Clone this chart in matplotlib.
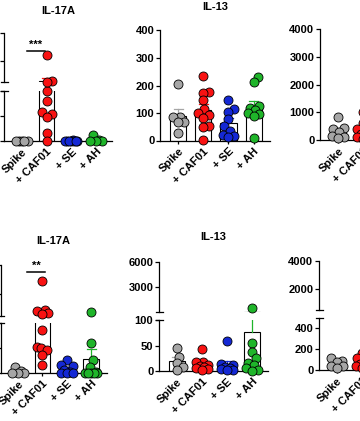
import numpy as np
import matplotlib.pyplot as plt

plt.rcParams['font.family'] = ['Liberation Sans', 'DejaVu Sans']
plt.rcParams['font.weight'] = 'bold'

groups = ["Spike", "+ CAF01", "+ SE", "+ AH"]
colors = ['#a6a6a6', '#f81212', '#1428d4', '#1fb52a']

# upper row: IL-17A
il17_top_spike = [1, 0, 0, 0, 0]
il17_top_caf01 = [601, 128, 115, 100, 80, 58, 54, 48, 16, 0]
il17_top_se = [2, 1, 0, 0, 0, 0, 0, 0]
il17_top_ah = [12, 2, 0, 0, 0]

# upper row: IL-13
il13_top_spike = [204, 86, 84, 68, 66, 26]
il13_top_caf01 = [236, 176, 174, 147, 115, 100, 93, 81, 53, 48, 2]
il13_top_se = [148, 114, 104, 77, 52, 35, 20, 18, 12]
il13_top_ah = [232, 212, 125, 118, 112, 100, 95, 88, 9]

# upper row: third panel (only partly in view)
c3_top_spike = [820, 430, 400, 300, 150, 120, 60]
c3_top_caf01 = [1020, 600, 400, 300, 200, 150, 100, 50, 20]

# lower row: IL-17A
il17_bot_spike = [12, 4, 0, 0, 0]
il17_bot_caf01 = [721, 215, 197, 162, 145, 86, 52, 50, 46, 36, 16]
il17_bot_se = [26, 16, 14, 6, 2, 0, 0, 0]
il17_bot_ah = [185, 61, 26, 13, 3, 0, 0, 0, 0, 0]

# lower row: IL-13
il13_bot_spike = [45, 28, 15, 8, 1]
il13_bot_caf01 = [43, 18, 17, 12, 10, 8, 5, 3, 1]
il13_bot_se = [59, 14, 12, 8, 5, 4, 2, 1]
il13_bot_ah = [540, 55, 38, 25, 15, 12, 5, 2, 0]

# lower row: third panel (only partly in view)
c3_bot_spike = [114, 85, 80, 40, 38, 15]
c3_bot_caf01 = [163, 120, 90, 60, 50, 40, 30, 20]

W, H = 360, 421
XLIM = (-0.72, 3.65)
DOT = 9.0  # marker diameter in px
fig = plt.figure(figsize=(W / 100, H / 100), dpi=100)


def box(x0, x1, ytop, ybot):
    return [x0 / W, 1 - ybot / H, (x1 - x0) / W, (ybot - ytop) / H]


def make_panel(x0, x1, segs, ylabels=True):
    # segs: list of (ytop, ybot, ylim, yticks), bottom segment first
    axes = []
    for k, (yt, yb, lim, ticks) in enumerate(segs):
        ax = fig.add_axes(box(x0, x1, yt, yb))
        ax.set_facecolor('none')
        ax.set_xlim(XLIM)
        ax.set_ylim(lim)
        ax.set_yticks(ticks)
        for s in ['top', 'right']:
            ax.spines[s].set_visible(False)
        for s in ['left', 'bottom']:
            ax.spines[s].set_linewidth(0.9)
        ax.tick_params(axis='y', length=2.6, width=0.9, pad=1.5, labelsize=8,
                       labelleft=ylabels)
        if k == 0:
            ax.set_xticks(range(len(groups)))
            ax.set_xticklabels(groups, rotation=45, ha='right', va='top',
                               rotation_mode='anchor', fontsize=8)
            ax.tick_params(axis='x', length=2.2, width=0.9, pad=2)
        else:
            ax.spines['bottom'].set_visible(False)
            ax.set_xticks([])
        axes.append(ax)
    # break caps
    if len(axes) > 1:
        for k, ax in enumerate(axes):
            w = 3.5 / ax.bbox.width
            if k > 0:
                ax.plot([-w, w], [0, 0], color='black', lw=0.9,
                        transform=ax.transAxes, clip_on=False)
            if k < len(axes) - 1:
                ax.plot([-w, w], [1, 1], color='black', lw=0.9,
                        transform=ax.transAxes, clip_on=False)
    return axes


def swarm(ypix):
    # greedy beeswarm in pixel space, some overlap allowed, width capped
    steps = np.arange(0, 0.651, 0.05) * DOT
    offs = np.zeros(len(ypix))
    placed = []

    def gap(x, y):
        return min([np.hypot(x - px, y - py) for px, py in placed], default=1e9)

    for i in np.argsort(ypix):
        y = ypix[i]
        best, fb, fbgap = None, 0.0, -1.0
        for s in steps:
            opts = [s] if s == 0 else [s, -s]
            gs = [gap(c, y) for c in opts]
            c = opts[int(np.argmax(gs))]
            g = max(gs)
            if g >= 0.78 * DOT:
                best = c
                break
            if g > fbgap:
                fb, fbgap = c, g
        offs[i] = fb if best is None else best
        placed.append((offs[i], y))
    return offs


def owner(axes, v):
    for k, ax in enumerate(axes):
        if v <= ax.get_ylim()[1]:
            return k
    return len(axes) - 1


def draw(axes, data):
    for i, vals in enumerate(data):
        vals = np.asarray(vals, float)
        if len(vals) == 0:
            continue
        m = vals.mean()
        se = vals.std(ddof=1) / np.sqrt(len(vals))
        for ax in axes:
            lo, hi = ax.get_ylim()
            ax.bar(i, m, width=0.64, color='white', edgecolor='black',
                   lw=0.8, zorder=1)
            ax.plot([i, i], [m, m + se], color=colors[i], lw=0.9, zorder=2)
            if lo <= m + se <= hi:
                ax.plot([i - 0.18, i + 0.18], [m + se, m + se],
                        color=colors[i], lw=0.9, zorder=2)
        own = np.array([owner(axes, v) for v in vals])
        ypix = np.array([axes[o].transData.transform((i, v))[1]
                         for o, v in zip(own, vals)])
        offs = swarm(ypix)
        for k, ax in enumerate(axes):
            sel = own == k
            if not sel.any():
                continue
            pxu = ax.bbox.width / (XLIM[1] - XLIM[0])
            ax.scatter(i + offs[sel] / pxu, vals[sel], s=DOT ** 2 * 0.52,
                       c=colors[i], edgecolors='black', linewidths=0.6,
                       zorder=3, clip_on=False)


def stars(ax, x0, x1, y_line, y_text, label):
    tr = ax.get_xaxis_transform()
    ax.plot([x0, x1], [y_line, y_line], color='black', lw=1.1,
            transform=tr, clip_on=False)
    ax.text((x0 + x1) / 2, y_text, label, transform=tr, ha='center',
            va='center', fontsize=8)


# upper row
tl = make_panel(4, 112, [(91, 141, (0, 100), [0, 50, 100]),
                         (33, 82, (110, 1000), [500, 1000])], ylabels=False)
draw(tl, [il17_top_spike, il17_top_caf01, il17_top_se, il17_top_ah])
stars(tl[1], 0.21, 0.94, 0.63, 0.76, '***')

tm = make_panel(160, 270, [(30.5, 140.5, (0, 400), [0, 100, 200, 300, 400])])
draw(tm, [il13_top_spike, il13_top_caf01, il13_top_se, il13_top_ah])

tr_ = make_panel(320, 430, [(29.3, 140, (0, 4000), [0, 1000, 2000, 3000, 4000])])
draw(tr_, [c3_top_spike, c3_top_caf01, [], []])

# lower row
bl = make_panel(0.6, 107, [(323, 373, (0, 100), [0, 50, 100]),
                           (265, 316, (110, 1000), [500, 1000])], ylabels=False)
draw(bl, [il17_bot_spike, il17_bot_caf01, il17_bot_se, il17_bot_ah])
stars(bl[1], 0.37, 1.11, 0.86, 0.99, '**')

bm = make_panel(159, 268, [(320, 371, (0, 100), [0, 50, 100]),
                           (262, 312, (100, 6000), [3000, 6000])])
draw(bm, [il13_bot_spike, il13_bot_caf01, il13_bot_se, il13_bot_ah])

br = make_panel(319, 428, [(318, 370, (0, 500), [0, 200, 400]),
                           (261, 310, (500, 4000), [2000, 4000])])
draw(br, [c3_bot_spike, c3_bot_caf01, [], []])

for x, y, t in [(58, 11.5, 'IL-17A'), (215, 7, 'IL-13'),
                (53, 241.5, 'IL-17A'), (213.5, 237.5, 'IL-13')]:
    fig.text(x / W, 1 - y / H, t, ha='center', va='center', fontsize=8)

fig.savefig('out.png', dpi=100)
